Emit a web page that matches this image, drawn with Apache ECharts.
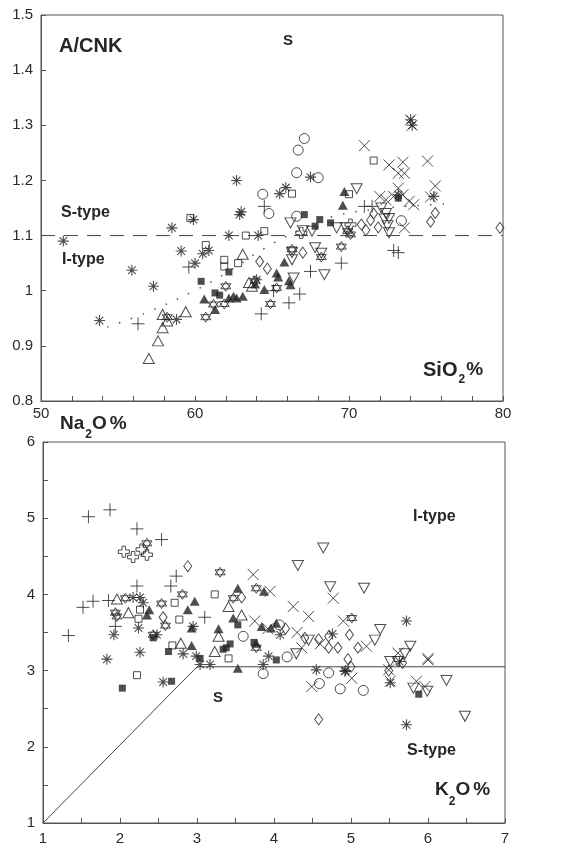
<!DOCTYPE html>
<html>
<head>
<meta charset="utf-8">
<script src="https://cdn.jsdelivr.net/npm/echarts@6/dist/echarts.min.js"></script>
<style>html,body{margin:0;padding:0;background:#fff;}#c{width:566px;height:848px;}</style>
</head>
<body>
<div id="c"></div>
<script>
// ---------- Top chart: SiO2 (%) vs A/CNK ----------
const topXTicks = [50, 60, 70, 80];
const topYTicks = [0.8, 0.9, 1, 1.1, 1.2, 1.3, 1.4, 1.5];
const topAsterisk = [[51.45,1.09],[53.8,0.946],[55.9,1.037],[57.3,1.008],[58.5,1.114],[58.8,0.948],[59.1,1.072],[59.9,1.129],[60.0,1.05],[60.5,1.067],[60.9,1.073],[62.2,1.10],[62.7,1.2],[62.9,1.138],[63.0,1.143],[64.1,1.10],[64.0,1.02],[65.5,1.176],[65.9,1.187],[67.5,1.206],[74.0,1.31],[74.1,1.30],[73.2,1.174],[75.5,1.171]];
const topPlus = [[56.3,0.94],[59.6,1.043],[64.5,1.153],[64.3,0.958],[66.1,0.978],[66.8,0.994],[67.5,1.035],[69.5,1.05],[72.9,1.073],[73.2,1.069],[71.0,1.153],[71.5,1.153],[65.1,1.0]];
const topCross = [[71.0,1.263],[72.6,1.228],[73.5,1.233],[73.2,1.213],[73.6,1.213],[74.0,1.31],[74.1,1.30],[75.1,1.235],[75.6,1.19],[72.0,1.171],[72.4,1.165],[72.9,1.171],[73.2,1.186],[73.5,1.174],[73.9,1.162],[74.2,1.156],[73.6,1.114],[75.3,1.17]];
const topTriOpen = [[57.0,0.877],[57.6,0.909],[57.9,0.933],[57.9,0.957],[58.2,0.945],[59.4,0.962],[63.1,1.066],[63.7,1.008],[63.5,1.015]];
const topTriFilled = [[60.6,0.985],[61.3,0.966],[62.2,0.987],[62.5,0.99],[62.7,0.987],[63.1,0.99],[64.5,1.002],[63.9,1.012],[65.3,1.032],[65.4,1.025],[65.8,1.052],[66.1,1.018],[66.2,1.011],[69.6,1.155],[69.7,1.18]];
const topSqFilled = [[60.4,1.017],[61.3,0.996],[61.6,0.992],[62.2,1.034],[67.1,1.138],[67.8,1.117],[68.1,1.129],[68.8,1.123],[73.2,1.168]];
const topSqOpen = [[59.7,1.132],[60.7,1.083],[61.9,1.056],[61.9,1.044],[62.8,1.05],[63.3,1.10],[64.5,1.108],[66.3,1.176],[70.0,1.175],[71.6,1.236]];
const topCircle = [[64.4,1.175],[64.8,1.14],[66.6,1.135],[66.6,1.214],[66.7,1.255],[67.1,1.276],[68.0,1.205],[73.4,1.127]];
const topDiamond = [[64.2,1.053],[64.7,1.04],[67.0,1.069],[70.8,1.12],[71.1,1.11],[71.4,1.128],[71.6,1.14],[71.9,1.115],[75.3,1.125],[75.6,1.141],[79.8,1.114]];
const topInvTri = [[66.2,1.123],[67.0,1.109],[67.6,1.108],[66.3,1.069],[66.3,1.056],[67.8,1.078],[68.2,1.068],[68.4,1.029],[66.4,1.023],[69.2,1.114],[69.8,1.114],[70.5,1.185],[72.1,1.15],[72.4,1.14],[72.6,1.131],[72.3,1.13],[72.5,1.118],[72.6,1.105]];
const topStar = [[58.2,0.952],[60.7,0.952],[61.2,0.975],[61.9,0.976],[62.0,1.008],[63.9,1.018],[64.9,0.976],[65.3,1.005],[66.3,1.075],[68.2,1.061],[69.5,1.08],[69.9,1.108],[70.1,1.102]];
const topOpenCross = [[70.1,1.12],[66.9,1.105]];
const topDivider = [[50,1.1],[80,1.1]];
const topTrend = [[54.3,0.934],[57.0,0.962],[59.9,0.999],[62.2,1.035],[64.4,1.075],[66.8,1.11],[69.0,1.135],[72.5,1.15],[76.7,1.158]];

// ---------- Bottom chart: K2O (%) vs Na2O (%) ----------
const botXTicks = [1, 2, 3, 4, 5, 6, 7];
const botYTicks = [1, 2, 3, 4, 5, 6];
const botPlus = [[1.33,3.46],[1.59,5.02],[1.87,5.11],[2.22,4.86],[2.54,4.72],[1.52,3.83],[1.65,3.91],[1.85,3.92],[2.22,4.11],[1.94,3.58],[2.73,4.24],[2.66,4.11],[3.10,3.70]];
const botOpenCross = [[2.05,4.56],[2.17,4.49],[2.28,4.59],[2.35,4.52]];
const botStar = [[2.35,4.67],[1.94,3.76],[1.96,3.71],[2.54,3.88],[2.81,4.0],[2.59,3.59],[2.43,3.47],[3.30,4.29],[3.47,3.95],[3.77,4.08],[3.77,3.30],[5.01,3.69],[2.07,3.95]];
const botAsterisk = [[1.83,3.15],[1.92,3.47],[2.24,3.56],[2.26,3.24],[2.17,3.96],[2.26,3.96],[2.30,3.89],[2.48,3.47],[2.82,3.22],[2.95,3.58],[2.99,3.19],[3.17,3.08],[3.04,3.08],[3.93,3.19],[4.08,3.47],[3.86,3.08],[4.76,3.48],[4.55,3.01],[4.92,2.99],[5.72,3.65],[5.51,2.84],[2.56,2.85],[5.72,2.29],[4.93,3.0],[5.63,3.12]];
const botTriFilled = [[2.35,3.73],[2.97,3.91],[2.88,3.80],[2.93,3.56],[2.93,3.33],[3.28,3.55],[3.53,4.08],[3.47,3.69],[3.53,3.03],[3.87,4.04],[3.84,3.58],[3.96,3.56],[4.03,3.62],[3.77,3.36],[2.38,3.80]];
const botSqFilled = [[2.43,3.43],[2.63,3.25],[3.04,3.16],[3.34,3.28],[3.43,3.35],[3.53,3.60],[3.74,3.37],[4.03,3.14],[2.03,2.77],[2.67,2.86],[5.88,2.69],[3.38,3.30]];
const botSqOpen = [[2.71,3.89],[2.77,3.67],[3.23,4.0],[2.26,3.80],[2.68,3.33],[3.41,3.16],[2.22,2.94],[2.24,3.68]];
const botTriOpen = [[1.96,3.94],[2.11,3.76],[2.79,3.36],[3.28,3.45],[3.41,3.84],[3.58,3.73],[3.23,3.25]];
const botDiamond = [[2.88,4.37],[2.56,3.70],[3.58,3.96],[4.58,3.41],[4.71,3.45],[4.71,3.30],[4.83,3.30],[4.96,3.15],[4.98,3.47],[5.09,3.30],[5.49,3.0],[4.58,2.36],[4.15,3.55],[4.40,3.43],[5.0,3.05],[5.67,3.1]];
const botCircle = [[3.60,3.45],[4.17,3.18],[4.71,2.97],[3.86,2.96],[4.59,2.83],[4.86,2.76],[5.16,2.74],[4.07,3.6]];
const botInvTri = [[4.31,4.38],[4.64,4.61],[4.73,4.10],[5.17,4.08],[5.38,3.54],[5.31,3.40],[4.29,3.22],[5.51,3.12],[5.61,3.12],[5.77,3.32],[5.81,2.77],[5.99,2.73],[6.24,2.87],[6.48,2.40],[4.45,3.4],[5.7,3.22]];
const botCross = [[3.73,4.26],[3.95,4.04],[3.75,3.65],[4.25,3.84],[4.45,3.71],[4.77,3.95],[4.36,3.30],[4.90,3.65],[5.2,3.32],[6.0,3.16],[5.61,3.23],[4.49,2.79],[5.01,2.90],[5.49,3.01],[5.51,2.86],[5.85,2.86],[5.96,2.79],[6.0,3.14],[4.3,3.5],[4.6,3.35],[3.92,3.55]];
const botBoundary = [[1,1],[3,3.05],[7,3.05]];

// ---------- symbols ----------
const INK = '#222';
const SYM = {
  asterisk: 'path://M5,0L5,10M0,5L10,5M1.5,1.5L8.5,8.5M8.5,1.5L1.5,8.5',
  plus: 'path://M5,0L5,10M0,5L10,5',
  cross: 'path://M0,0L10,10M10,0L0,10',
  star: 'path://M5,0L9.33,7.5L0.67,7.5ZM5,10L0.67,2.5L9.33,2.5Z',
  openCross: 'path://M3.4,0L6.6,0L6.6,3.4L10,3.4L10,6.6L6.6,6.6L6.6,10L3.4,10L3.4,6.6L0,6.6L0,3.4L3.4,3.4Z',
  invTri: 'path://M0,0L10,0L5,8.66Z'
};
function sc(data, gi, symbol, size, filled, bw) {
  return {
    type: 'scatter', xAxisIndex: gi, yAxisIndex: gi, data: data,
    symbol: symbol, symbolSize: size, silent: true,
    itemStyle: filled ? {color: INK, borderWidth: 0} :
      {color: 'rgba(0,0,0,0)', borderColor: INK, borderWidth: bw || 1},
    emphasis: {disabled: true}
  };
}
function seriesFor(gi, d) {
  return [
    sc(d.asterisk, gi, SYM.asterisk, 11, false, 1.1),
    sc(d.plus, gi, SYM.plus, 13, false, 1),
    sc(d.cross, gi, SYM.cross, 11, false, 1),
    sc(d.triOpen, gi, 'triangle', [11, 10], false, 1),
    sc(d.triFilled, gi, 'triangle', [10, 9], true),
    sc(d.sqFilled, gi, 'rect', 7, true),
    sc(d.sqOpen, gi, 'rect', 7, false, 1),
    sc(d.circle, gi, 'circle', 10, false, 1),
    sc(d.diamond, gi, 'diamond', [8, 11], false, 1),
    sc(d.invTri, gi, SYM.invTri, [11, 10], false, 1),
    sc(d.star, gi, SYM.star, 10, false, 1),
    sc(d.openCross, gi, SYM.openCross, 11, false, 1)
  ];
}
const LBL = {fontFamily: 'Liberation Sans, Arial, sans-serif', fontSize: 15, color: '#2b2b2b'};
function axis(gi, min, max, interval, minorSplit, margin, ticks) {
  return {
    type: 'value', gridIndex: gi, min: min, max: max, interval: interval,
    axisLine: {show: true, onZero: false, lineStyle: {color: '#555', width: 1}},
    axisTick: {show: true, inside: true, length: 5, lineStyle: {color: '#555', width: 1}},
    minorTick: {show: minorSplit > 1, splitNumber: minorSplit, length: 5, lineStyle: {color: '#555', width: 1}},
    splitLine: {show: false}, minorSplitLine: {show: false},
    axisLabel: Object.assign({margin: margin, showMinLabel: true, showMaxLabel: true,
      formatter: v => { const r = Math.round(v * 100) / 100; return ticks.indexOf(r) >= 0 ? String(r) : ''; }}, LBL)
  };
}
const FONTFAM = 'Liberation Sans, Arial, sans-serif';
function txt(x, y, text, size, align) {
  return {type: 'text', x: x, y: y, silent: true,
    style: {text: text, fill: '#262626', font: 'bold ' + size + 'px ' + FONTFAM,
      textAlign: align || 'left', textVerticalAlign: 'middle'}};
}
// label with subscript: pieces placed one after another using measured widths
const mctx = document.createElement('canvas').getContext('2d');
function subLabel(x, y, parts) {
  const out = [];
  let cx = x;
  parts.forEach(p => {
    out.push(txt(cx + (p.gap || 0), y + (p.dy || 0), p.t, p.s));
    mctx.font = 'bold ' + p.s + 'px ' + FONTFAM;
    cx += (p.gap || 0) + mctx.measureText(p.t).width;
  });
  return out;
}

const chart = echarts.init(document.getElementById('c'), null, {renderer: 'canvas'});
chart.setOption({
  animation: false,
  backgroundColor: '#fff',
  grid: [
    {left: 41, top: 15, width: 462, height: 386, show: true, borderColor: '#555', borderWidth: 1, backgroundColor: 'transparent'},
    {left: 43, top: 442, width: 462, height: 381, show: true, borderColor: '#555', borderWidth: 1, backgroundColor: 'transparent'}
  ],
  xAxis: [axis(0, 50, 80, 10, 5, 5, topXTicks), axis(1, 1, 7, 1, 2, 8, botXTicks)],
  yAxis: [axis(0, 0.8, 1.5, 0.1, 0, 8, topYTicks), axis(1, 1, 6, 1, 2, 8, botYTicks)],
  series: [
    {type: 'line', xAxisIndex: 0, yAxisIndex: 0, data: topDivider, symbol: 'none', silent: true,
      lineStyle: {color: '#444', width: 1, type: [14, 9]}},
    {type: 'line', xAxisIndex: 0, yAxisIndex: 0, data: topTrend, symbol: 'none', silent: true, smooth: 0.4,
      lineStyle: {color: '#555', width: 1.5, type: [1.5, 11]}},
    {type: 'line', xAxisIndex: 1, yAxisIndex: 1, data: botBoundary, symbol: 'none', silent: true,
      lineStyle: {color: '#444', width: 1}}
  ].concat(
    seriesFor(0, {asterisk: topAsterisk, plus: topPlus, cross: topCross, triOpen: topTriOpen, triFilled: topTriFilled,
      sqFilled: topSqFilled, sqOpen: topSqOpen, circle: topCircle, diamond: topDiamond, invTri: topInvTri,
      star: topStar, openCross: topOpenCross}),
    seriesFor(1, {asterisk: botAsterisk, plus: botPlus, cross: botCross, triOpen: botTriOpen, triFilled: botTriFilled,
      sqFilled: botSqFilled, sqOpen: botSqOpen, circle: botCircle, diamond: botDiamond, invTri: botInvTri,
      star: botStar, openCross: botOpenCross})
  ),
  graphic: [
    txt(59, 46, 'A/CNK', 20),
    txt(288, 41, 'S', 15, 'center'),
    txt(61, 213, 'S-type', 16),
    txt(62, 260, 'I-type', 16),
    txt(413, 517, 'I-type', 16),
    txt(218, 698, 'S', 15, 'center'),
    txt(407, 751, 'S-type', 16)
  ].concat(
    subLabel(423, 370, [{t: 'SiO', s: 20}, {t: '2', s: 12, dy: 10, gap: 1}, {t: '%', s: 19, gap: 1}]),
    subLabel(60, 424, [{t: 'Na', s: 19}, {t: '2', s: 12, dy: 11, gap: 1}, {t: 'O', s: 19}, {t: '%', s: 19, gap: 3}]),
    subLabel(435, 790, [{t: 'K', s: 19}, {t: '2', s: 12, dy: 12}, {t: 'O', s: 19}, {t: '%', s: 19, gap: 3}])
  )
});
</script>
</body>
</html>
